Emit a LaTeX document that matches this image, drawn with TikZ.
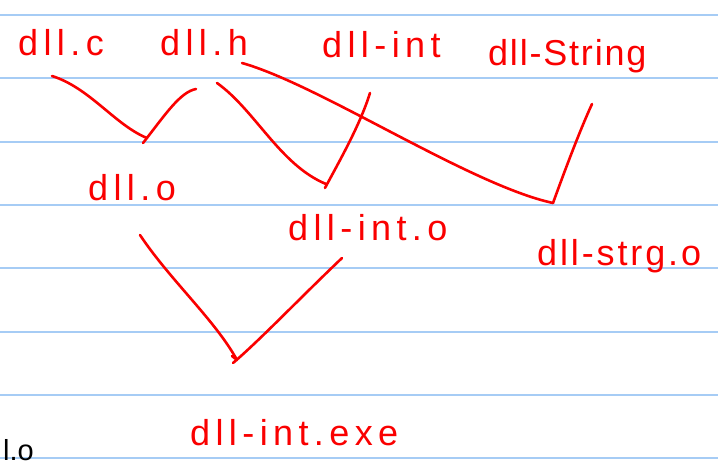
\documentclass[tikz,border=0pt]{standalone}
\usepackage{fontspec}
\setmainfont{Liberation Sans}
\newfontfamily\hand[LetterSpace=15]{Liberation Sans}
\newfontfamily\handtight[LetterSpace=5]{Liberation Sans}
\newfontfamily\handmid[LetterSpace=8]{Liberation Sans}
\definecolor{rule}{RGB}{166,204,245}
\definecolor{ink}{RGB}{250,0,0}
\begin{document}
\begin{tikzpicture}[x=1pt,y=-1pt,
  label/.style={anchor=base west,inner sep=0pt,text=ink,font=\hand\fontsize{36}{42}\selectfont},
  labeltight/.style={label,font=\handtight\fontsize{36}{42}\selectfont},
  labelmid/.style={label,font=\handmid\fontsize{36}{42}\selectfont},
  stroke/.style={draw=ink,line width=2.6pt,line cap=round,line join=round},
  ruleline/.style={draw=rule,line width=2.8pt}]
\useasboundingbox (0,0) rectangle (718,466);
% ruled paper
\foreach \yy in {15,78,142,205,268,332,395,458}
  \draw[ruleline] (0,\yy) -- (718,\yy);
% labels
\node[label] (dllc) at (18,55) {dll.c};
\node[label] (dllh) at (160,55) {dll.h};
\node[label] (dllint) at (322,57) {dll-int};
\node[labeltight] (dllstr) at (488,65) {dll-String};
\node[label] (dllo) at (88,200) {dll.o};
\node[label] (dllinto) at (288,240) {dll-int.o};
\node[labelmid] (dllstro) at (537,265) {dll-strg.o};
\node[label] (dllexe) at (190,445) {dll-int.exe};
\node[anchor=base west,inner sep=0pt,font=\fontsize{29}{34}\selectfont] (lo) at (3,460) {l.o};
% connector ends
\coordinate (c1) at (52,76);
\coordinate (h1) at (196,89);
\coordinate (m1) at (147,138);
\coordinate (h2) at (217,83);
\coordinate (i1) at (370,93);
\coordinate (m2) at (326,184);
\coordinate (h3) at (242,63);
\coordinate (s1) at (592,104);
\coordinate (m3) at (553,203);
\coordinate (o1) at (140,235);
\coordinate (io1) at (342,258);
\coordinate (m4) at (237,360);
% connectors
\draw[stroke] (c1) .. controls (90,88) and (115,125) .. (m1);
\draw[stroke] (h1) .. controls (180,92) and (165,115) .. (143,143);
\draw[stroke] (h2) .. controls (255,110) and (280,165) .. (m2);
\draw[stroke] (i1) .. controls (360,125) and (340,160) .. (325,188);
\draw[stroke] (h3) .. controls (320,85) and (470,185) .. (m3);
\draw[stroke] (s1) .. controls (580,130) and (565,170) .. (m3);
\draw[stroke] (o1) .. controls (170,280) and (215,320) .. (m4) -- (232,356);
\draw[stroke] (io1) .. controls (300,298) and (260,340) .. (233,363);
\end{tikzpicture}
\end{document}
